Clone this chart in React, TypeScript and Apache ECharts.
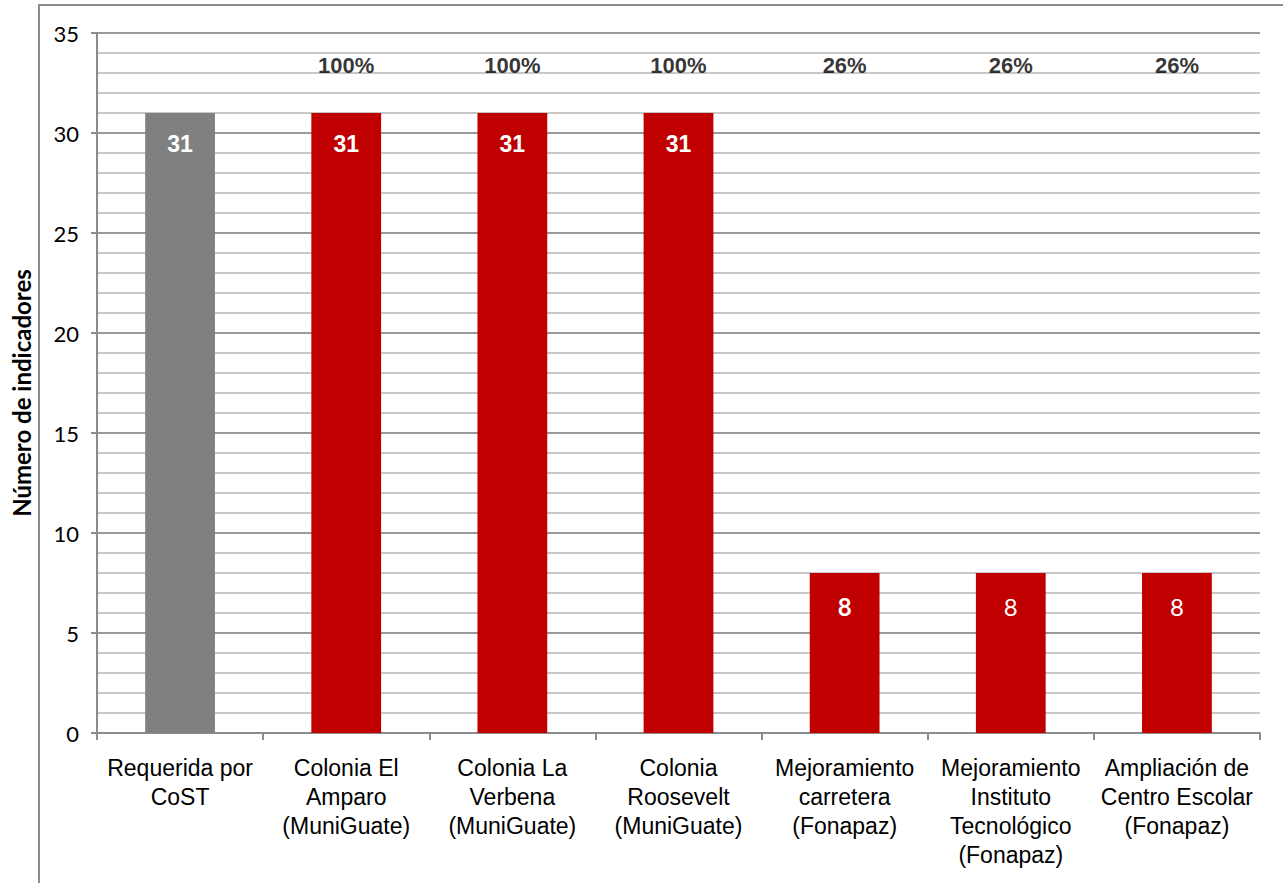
import React, { useEffect, useRef } from "react";
import * as echarts from "echarts";

const categories = [
  "Requerida por\nCoST",
  "Colonia El\nAmparo\n(MuniGuate)",
  "Colonia La\nVerbena\n(MuniGuate)",
  "Colonia\nRoosevelt\n(MuniGuate)",
  "Mejoramiento\ncarretera\n(Fonapaz)",
  "Mejoramiento\nInstituto\nTecnológico\n(Fonapaz)",
  "Ampliación de\nCentro Escolar\n(Fonapaz)",
];
const indicatorValues = [31, 31, 31, 31, 8, 8, 8];
const barColors = ["#808080", "#C00000", "#C00000", "#C00000", "#C00000", "#C00000", "#C00000"];
const percentLabels = ["", "100%", "100%", "100%", "26%", "26%", "26%"];
const percentLevel = 33.4;
const yTicks = { min: 0, max: 35, interval: 5 };
const yTitle = "Número de indicadores";

export default function App() {
  const ref = useRef<HTMLDivElement>(null);
  useEffect(() => {
    document.body.style.margin = "0";
    const chart = echarts.init(ref.current!, null, { renderer: "svg" });
    const calibri = "Lato, 'Open Sans', sans-serif";
    const arial = "'Liberation Sans', Arial, sans-serif";
    chart.setOption({
      animation: false,
      backgroundColor: "#ffffff",
      grid: { left: 97, right: 23, top: 33, bottom: 150, containLabel: false },
      graphic: [
        {
          type: "rect",
          shape: { x: 39, y: 5, width: 1400, height: 1000 },
          style: { fill: "none", stroke: "#8c8c8c", lineWidth: 2 },
          silent: true,
        },
        {
          type: "text",
          x: 21,
          y: 393,
          rotation: Math.PI / 2,
          style: {
            text: yTitle,
            fill: "#000",
            font: `bold 24px ${calibri}`,
            align: "center",
            verticalAlign: "middle",
          },
        },
      ],
      xAxis: {
        type: "category",
        data: categories,
        boundaryGap: true,
        axisLine: { show: true, lineStyle: { color: "#8c8c8c", width: 2 } },
        axisTick: { show: true, interval: 0, length: 7, lineStyle: { color: "#8c8c8c", width: 2 } },
        axisLabel: {
          interval: 0,
          color: "#000",
          fontFamily: arial,
          fontSize: 23,
          lineHeight: 29,
          margin: 20,
        },
        splitLine: { show: false },
      },
      yAxis: {
        type: "value",
        min: yTicks.min,
        max: yTicks.max,
        interval: yTicks.interval,
        axisLine: { show: true, lineStyle: { color: "#8c8c8c", width: 2 } },
        axisTick: { show: true, length: 6, lineStyle: { color: "#8c8c8c", width: 2 } },
        axisLabel: { color: "#000", fontFamily: calibri, fontSize: 22, margin: 18 },
        splitLine: { show: true, lineStyle: { color: "#9a9a9a", width: 2 } },
        minorTick: { show: false, splitNumber: 5 },
        minorSplitLine: { show: true, lineStyle: { color: "#c8c8c8", width: 2 } },
      },
      series: [
        {
          type: "bar",
          barWidth: "42%",
          z: 3,
          data: indicatorValues.map((v, i) => ({
            value: v,
            itemStyle: { color: barColors[i] },
            label:
              v < 10
                ? {
                    fontFamily: calibri,
                    fontWeight: i === 4 ? "bold" : "normal",
                    fontSize: 24,
                    distance: 21,
                  }
                : {},
          })),
          label: {
            show: true,
            position: "insideTop",
            distance: 19,
            color: "#ffffff",
            fontFamily: arial,
            fontWeight: "bold",
            fontSize: 23,
          },
        },
        {
          type: "scatter",
          symbolSize: 0,
          z: 4,
          data: percentLabels.map((p) => (p ? percentLevel : null)),
          label: {
            show: true,
            position: "inside",
            formatter: (params: any) => percentLabels[params.dataIndex],
            color: "#000",
            fontFamily: arial,
            fontWeight: "bold",
            fontSize: 22,
          },
        },
      ],
    });
    return () => chart.dispose();
  }, []);
  return <div ref={ref} style={{ width: 1283, height: 883 }} />;
}
